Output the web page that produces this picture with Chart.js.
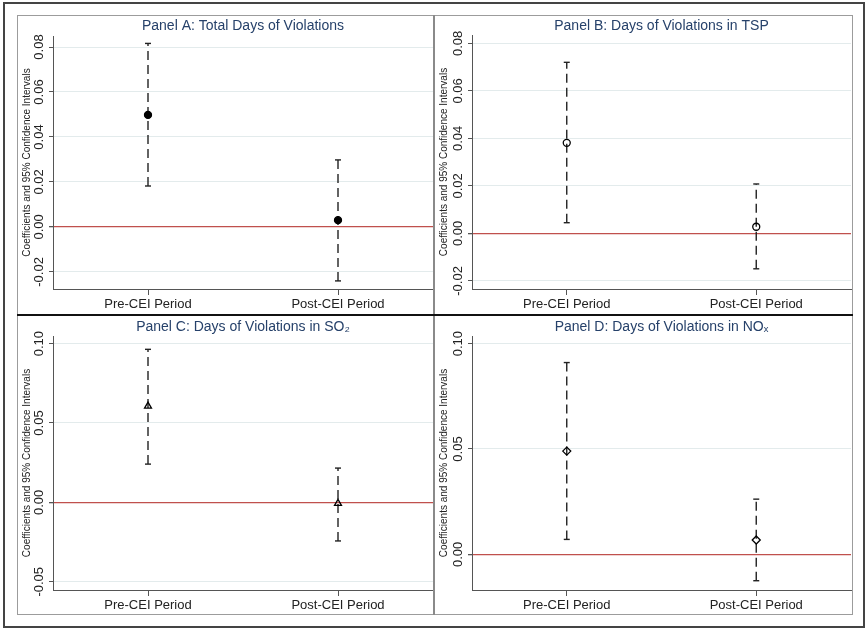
<!DOCTYPE html>
<html>
<head>
<meta charset="utf-8">
<script src="https://cdn.jsdelivr.net/npm/chart.js@4.4.1/dist/chart.umd.min.js"></script>
<style>
  body { margin: 0; background: #fff; }
  .line { position: absolute; box-sizing: border-box; }
  .box { position: absolute; }
</style>
</head>
<body>
<div class="line" style="left:3px;top:2px;width:862px;height:626px;border:2px solid #444;"></div>
<div class="line" style="left:17px;top:15px;width:836px;height:600px;border:1px solid #9c9c9c;"></div>
<div class="line" style="left:433px;top:15px;width:2px;height:600px;background:#8a8a8a;"></div>
<div class="line" style="left:17px;top:314px;width:836px;height:2px;background:#111;"></div>

<div class="box" style="left:18px;top:16px;width:415px;height:298px;"><canvas id="panelA"></canvas></div>
<div class="box" style="left:435px;top:16px;width:417px;height:298px;"><canvas id="panelB"></canvas></div>
<div class="box" style="left:18px;top:317px;width:415px;height:296px;"><canvas id="panelC"></canvas></div>
<div class="box" style="left:435px;top:317px;width:417px;height:296px;"><canvas id="panelD"></canvas></div>

<script>
const categories = ['Pre-CEI Period', 'Post-CEI Period'];

// Panel A: total days
const coefA = [0.0498, 0.0030];
const lowA  = [0.0182, -0.0240];
const highA = [0.0816, 0.0298];
const ticksA = [-0.02, 0, 0.02, 0.04, 0.06, 0.08];
const rangeA = [-0.0276, 0.0849];

// Panel B: TSP
const coefB = [0.0381, 0.0028];
const lowB  = [0.0045, -0.0149];
const highB = [0.0720, 0.0208];
const ticksB = [-0.02, 0, 0.02, 0.04, 0.06, 0.08];
const rangeB = [-0.0234, 0.0835];

// Panel C: SO2
const coefC = [0.0606, -0.0006];
const lowC  = [0.0241, -0.0243];
const highC = [0.0964, 0.0216];
const ticksC = [-0.05, 0, 0.05, 0.10];
const rangeC = [-0.0552, 0.1048];

// Panel D: NOx
const coefD = [0.0490, 0.0068];
const lowD  = [0.0071, -0.0125];
const highD = [0.0910, 0.0262];
const ticksD = [0, 0.05, 0.10];
const rangeD = [-0.0169, 0.1036];

const FONT = '"Liberation Sans", Arial, "DejaVu Sans", sans-serif';
const measure = document.createElement('canvas').getContext('2d');
measure.font = 'normal 13px ' + FONT;

function drawPanel(id, title, coef, low, high, ticks, range, marker, lay) {
  const widest = Math.max(...ticks.map(v => measure.measureText(v.toFixed(2)).width));

  const datasets = [{
    data: coef.map((v, i) => ({x: i + 1, y: v})),
    showLine: false,
    pointStyle: marker.style,
    pointRadius: marker.r,
    pointBackgroundColor: marker.fill,
    pointBorderColor: '#000',
    pointBorderWidth: 1.3
  }];
  categories.forEach((c, i) => {
    datasets.push({
      data: [{x: i + 1, y: low[i]}, {x: i + 1, y: high[i]}],
      showLine: true,
      borderColor: '#222',
      borderWidth: 1.4,
      borderDash: [9, 5],
      pointStyle: 'line',
      pointRadius: 3,
      pointBorderColor: '#222',
      pointBorderWidth: 1.4
    });
  });

  new Chart(document.getElementById(id), {
    type: 'scatter',
    data: { datasets: datasets },
    options: {
      responsive: true,
      maintainAspectRatio: false,
      animation: false,
      layout: { autoPadding: false, padding: { left: 0, right: lay.padRight, top: 0, bottom: 0 } },
      plugins: {
        legend: { display: false },
        tooltip: { enabled: false },
        title: {
          display: true,
          text: title,
          fullSize: false,
          color: '#26416a',
          font: { family: FONT, size: 14, weight: 'normal' },
          padding: { top: 1.5, bottom: lay.titleH - 16.8 - 1.5 }
        }
      },
      scales: {
        x: {
          type: 'linear',
          min: 0.5,
          max: 2.5,
          afterBuildTicks: s => { s.ticks = categories.map((c, i) => ({value: i + 1})); },
          afterFit: s => { s.height = lay.xH; },
          ticks: {
            callback: v => categories[v - 1],
            color: '#222',
            font: { family: FONT, size: 13 },
            padding: 2,
            maxRotation: 0,
            autoSkip: false
          },
          grid: { drawOnChartArea: false, tickLength: 6, tickColor: '#555' },
          border: { color: '#555', width: 1 }
        },
        y: {
          min: range[0],
          max: range[1],
          afterBuildTicks: s => { s.ticks = ticks.map(v => ({value: v})); },
          afterFit: s => { s.width = lay.yW; },
          ticks: {
            callback: v => v.toFixed(2),
            minRotation: 90,
            maxRotation: 90,
            crossAlign: 'center',
            padding: lay.labelGap - 4 - widest / 2,
            color: '#222',
            font: { family: FONT, size: 13 },
            autoSkip: false
          },
          grid: {
            color: c => (c.tick && c.tick.value === 0) ? '#c0504d' : '#e3ebec',
            lineWidth: c => (c.tick && c.tick.value === 0) ? 1.3 : 1,
            tickLength: 4,
            tickColor: '#555'
          },
          border: { color: '#555', width: 1 },
          title: {
            display: true,
            text: 'Coefficients and 95% Confidence Intervals',
            color: '#222',
            font: { family: FONT, size: 10 },
            padding: { top: 3, bottom: 0 }
          }
        }
      }
    }
  });
}

drawPanel('panelA', 'Panel A: Total Days of Violations', coefA, lowA, highA, ticksA, rangeA,
  { style: 'circle', r: 3.5, fill: '#000' },
  { yW: 35, xH: 25, titleH: 20, padRight: 0, labelGap: 13.5 });

drawPanel('panelB', 'Panel B: Days of Violations in TSP', coefB, lowB, highB, ticksB, rangeB,
  { style: 'circle', r: 3.5, fill: 'rgba(0,0,0,0)' },
  { yW: 37, xH: 25, titleH: 19, padRight: 1, labelGap: 14 });

drawPanel('panelC', 'Panel C: Days of Violations in SO\u2082', coefC, lowC, highC, ticksC, rangeC,
  { style: 'triangle', r: 4, fill: 'rgba(0,0,0,0)' },
  { yW: 35, xH: 23, titleH: 19, padRight: 0, labelGap: 13.5 });

drawPanel('panelD', 'Panel D: Days of Violations in NO\u2093', coefD, lowD, highD, ticksD, rangeD,
  { style: 'rectRot', r: 4, fill: 'rgba(0,0,0,0)' },
  { yW: 37, xH: 23, titleH: 19, padRight: 1, labelGap: 14 });
</script>
</body>
</html>
